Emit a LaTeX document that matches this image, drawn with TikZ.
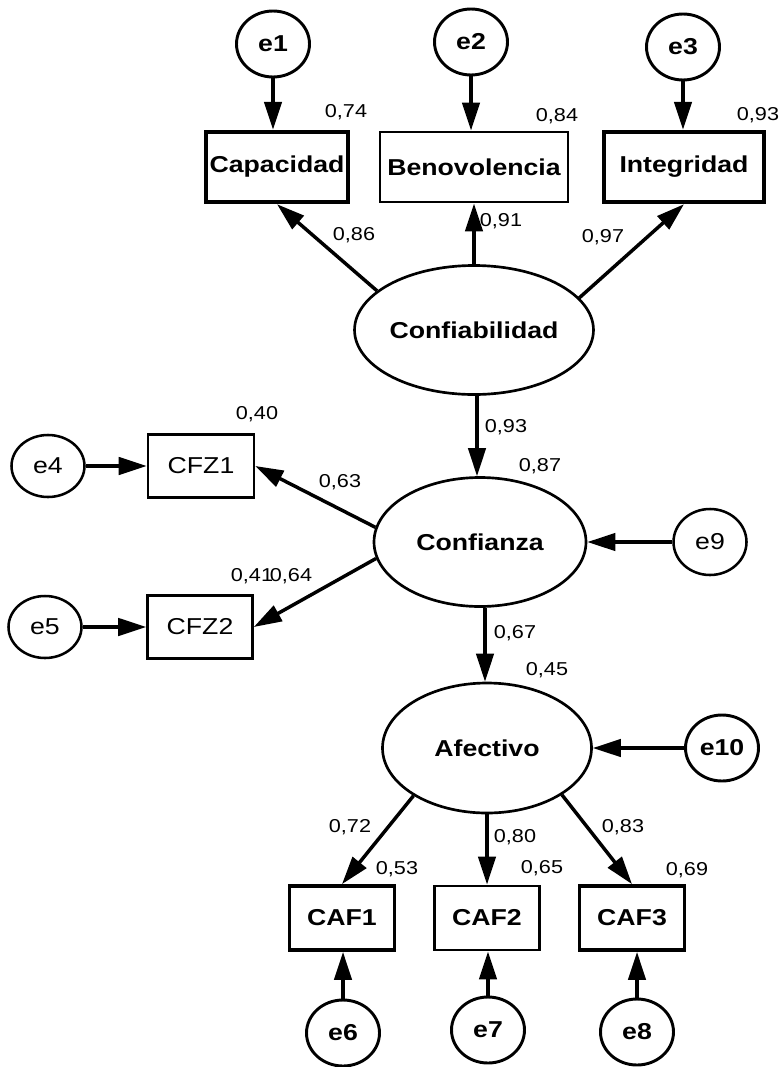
\documentclass[tikz,border=0pt]{standalone}
\usepackage{fontspec}
\setmainfont{Liberation Sans}[FakeStretch=1.16]
\usetikzlibrary{arrows.meta,calc,shapes.geometric}

\begin{document}
\begin{tikzpicture}[x=0.75pt,y=-0.75pt,
  namefont/.style={font=\bfseries\fontsize{17.25}{18}\selectfont},
  plainfont/.style={font=\fontsize{17.25}{18}\selectfont},
  obs/.style={draw, rectangle, line width=2.8pt, inner sep=0pt, namefont},
  obsmid/.style={obs, line width=2.1pt},
  obsthin/.style={draw, rectangle, line width=1.9pt, inner sep=0pt, plainfont},
  lat/.style={draw, ellipse, line width=2pt, inner sep=0pt, namefont},
  err/.style={draw, ellipse, line width=2.2pt, inner sep=0pt, minimum width=54.75pt, minimum height=49.5pt, namefont},
  errthin/.style={err, line width=1.9pt, plainfont},
  num/.style={inner sep=0pt, font=\fontsize{14}{15}\selectfont},
  arr/.style={line width=2.6pt, -{Triangle[length=21pt,width=13pt]}},
]
\useasboundingbox (0,0) rectangle (780,1067);

% indicators of Confiabilidad
\node[obs, minimum width=106.5pt, minimum height=53pt] (cap) at (277,167) {Capacidad};
\node[obsmid, minimum width=141pt, minimum height=52.5pt] (ben) at (474,167) {Benovolencia};
\node[obs, minimum width=120pt, minimum height=53pt] (int) at (684,167) {Integridad};
\node[err] (e1) at (273,44) {e1};
\node[err] (e2) at (471,42) {e2};
\node[err] (e3) at (683,47) {e3};

% latent variables
\node[lat, minimum width=160.5pt, minimum height=96.75pt] (conf) at (474,330) {Confiabilidad};
\node[lat, minimum width=159pt, minimum height=96.75pt] (confz) at (480,542) {Confianza};
\node[lat, minimum width=156.75pt, minimum height=97.5pt] (afect) at (487,748) {Afectivo};

% indicators of Confianza
\node[obsthin, minimum width=79.5pt, minimum height=47.25pt] (cfz1) at (201,466) {CFZ1};
\node[obsthin, minimum width=78.75pt, minimum height=47.25pt] (cfz2) at (200,627) {CFZ2};
\node[errthin, minimum height=46.5pt] (e4) at (48,466) {e4};
\node[errthin, minimum height=46.5pt] (e5) at (45,627) {e5};
\node[errthin] (e9) at (710,542) {e9};
\node[err] (e10) at (722,748) {e10};

% indicators of Afectivo
\node[obs, minimum width=78.75pt, minimum height=48pt] (caf1) at (342,918) {CAF1};
\node[obsmid, minimum width=78.75pt, minimum height=48pt] (caf2) at (487,918) {CAF2};
\node[obs, minimum width=78.75pt, minimum height=48pt] (caf3) at (632,918) {CAF3};
\node[err] (e6) at (343,1033) {e6};
\node[err] (e7) at (488,1030) {e7};
\node[err] (e8) at (637,1032) {e8};

% error terms
\draw[arr] (e1.south) -- (e1.south |- cap.north);
\draw[arr] (e2.south) -- (e2.south |- ben.north);
\draw[arr] (e3.south) -- (e3.south |- int.north);
\draw[arr] (e4.east) -- (cfz1.west);
\draw[arr] (e5.east) -- (cfz2.west);
\draw[arr] (e9) -- (confz);
\draw[arr] (e10) -- (afect);
\draw[arr] (e6.north) -- (e6.north |- caf1.south);
\draw[arr] (e7.north) -- (e7.north |- caf2.south);
\draw[arr] (e8.north) -- (e8.north |- caf3.south);

% loadings and structural paths
\draw[arr] (conf.158.7) -- (cap.south);
\draw[arr] (conf) -- (ben);
\draw[arr] (conf.17) -- (int.south);
\draw[arr] ($(conf.south)+(3,0)$) -- ($(confz.north)+(-3,0)$);
\draw[arr] (confz.172.8) -- (cfz1.east);
\draw[arr] (confz.189.4) -- (cfz2.east);
\draw[arr] ($(confz.south)+(5,0)$) -- ($(afect.north)+(-2,0)$);
\draw[arr] (afect.213.2) -- (caf1.north);
\draw[arr] (afect) -- (caf2);
\draw[arr] (afect.-32.8) -- (caf3.north);

% estimates
\node[num] (r1) at (346,112) {0,74};
\node[num] (r2) at (557,116) {0,84};
\node[num] (r3) at (758,115) {0,93};
\node[num] (l1) at (354,235) {0,86};
\node[num] (l2) at (501,221) {0,91};
\node[num] (l3) at (603,237) {0,97};
\node[num] (p1) at (506,427) {0,93};
\node[num] (r9) at (540,466) {0,87};
\node[num] (r4) at (257,414) {0,40};
\node[num] (l4) at (340,482) {0,63};
\node[num] (r5) at (252,576) {0,41};
\node[num] (l5) at (291,576) {0,64};
\node[num] (p2) at (515,633) {0,67};
\node[num] (r10) at (547,670) {0,45};
\node[num] (l6) at (350,827) {0,72};
\node[num] (l7) at (515,837) {0,80};
\node[num] (l8) at (623,827) {0,83};
\node[num] (r6) at (397,869) {0,53};
\node[num] (r7) at (542,868) {0,65};
\node[num] (r8) at (687,870) {0,69};
\end{tikzpicture}
\end{document}
